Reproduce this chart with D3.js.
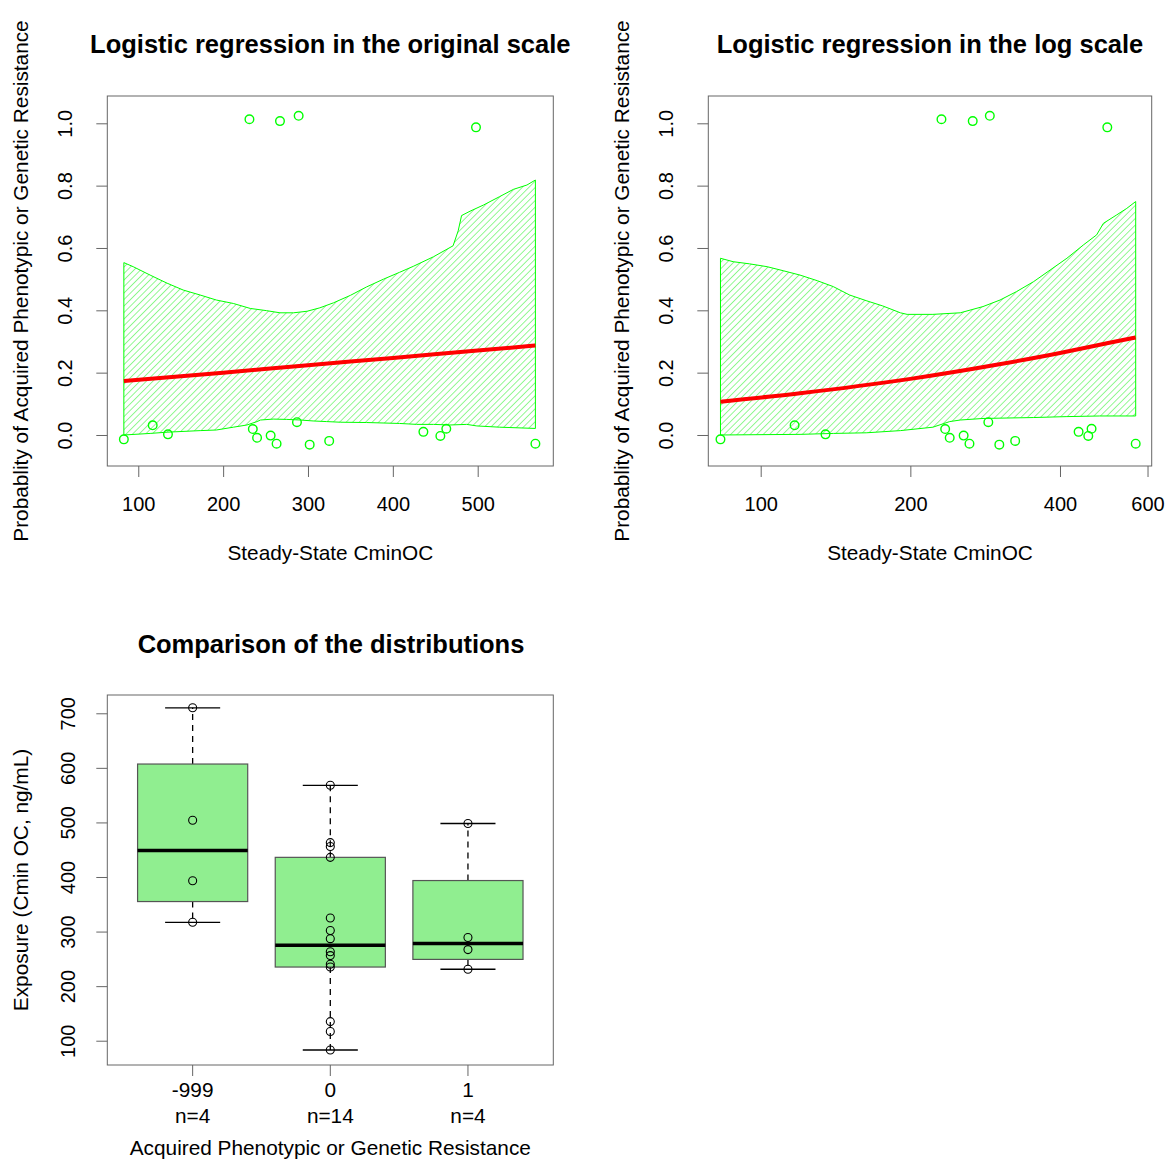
<!DOCTYPE html>
<meta charset="utf-8">
<title>Logistic regression and exposure distributions</title>
<style>
  body { margin: 0; background: #fff; }
  text { font-family: "Liberation Sans", Arial, sans-serif; fill: #000; }
  .title { font-size: 25.5px; font-weight: bold; }
  .lab { font-size: 20.8px; }
  .tick text { font-size: 20px; }
</style>
<body>
<svg width="1166" height="1163"></svg>
<script src="https://d3js.org/d3.v7.min.js"></script>
<script>

  // Steady-state CminOC per resistance group
  var groupNames = ["-999", "0", "1"];
  var cminUnknown = [317, 393, 504, 710];
  var cminNoRes = [83, 117, 135, 235, 240, 256, 263, 287, 302, 325, 436, 456, 463, 568];
  var cminRes = [231, 267, 289, 498];

  // outcome as plotted (jittered 0 / 1)
  var jitNoRes = [-0.014, 0.031, 0.002, 0.019, -0.009, -0.002, -0.028, 0.041, -0.031, -0.019, 0.010, -0.003, 0.020, -0.028];
  var jitRes = [1.013, 1.007, 1.024, 0.987];

  // fitted probability, original scale
  var fitOrigX = [83, 200, 300, 400, 500, 568];
  var fitOrigP = [0.173, 0.200, 0.224, 0.247, 0.271, 0.287];
  // confidence band, original scale
  var bandOrigUpX = [83, 94, 114, 134, 153, 173, 192, 212, 232, 251, 267, 283, 299, 314, 330, 350, 369, 389, 408, 424, 448, 471, 477, 481, 491, 507, 526, 542, 558, 568];
  var bandOrigUpP = [0.553, 0.540, 0.513, 0.487, 0.465, 0.449, 0.433, 0.422, 0.406, 0.399, 0.392, 0.392, 0.397, 0.408, 0.424, 0.448, 0.475, 0.500, 0.522, 0.541, 0.572, 0.607, 0.655, 0.704, 0.718, 0.738, 0.765, 0.788, 0.802, 0.818];
  var bandOrigLoX = [83, 114, 134, 173, 192, 212, 228, 240, 244, 259, 275, 291, 306, 322, 338, 369, 408, 428, 448, 467, 487, 499, 526, 568];
  var bandOrigLoP = [0.000, 0.005, 0.009, 0.014, 0.016, 0.025, 0.032, 0.043, 0.048, 0.051, 0.050, 0.048, 0.045, 0.043, 0.041, 0.040, 0.037, 0.034, 0.034, 0.032, 0.034, 0.029, 0.025, 0.021];

  // fitted probability, log scale
  var fitLogX = [83, 120, 200, 300, 400, 500, 568];
  var fitLogP = [0.107, 0.134, 0.180, 0.226, 0.263, 0.295, 0.313];
  // confidence band, log scale
  var bandLogUpX = [83, 88, 95, 103, 111, 120, 130, 140, 151, 163, 176, 191, 197, 222, 252, 280, 303, 327, 354, 382, 413, 446, 474, 489, 520, 545, 568];
  var bandLogUpP = [0.567, 0.556, 0.549, 0.540, 0.527, 0.513, 0.495, 0.476, 0.449, 0.431, 0.414, 0.392, 0.387, 0.387, 0.392, 0.412, 0.433, 0.460, 0.492, 0.529, 0.567, 0.610, 0.642, 0.679, 0.706, 0.727, 0.749];
  var bandLogLoX = [83, 120, 140, 163, 191, 222, 240, 252, 280, 354, 413, 481, 568];
  var bandLogLoP = [0.000, 0.002, 0.005, 0.007, 0.014, 0.025, 0.043, 0.048, 0.053, 0.056, 0.059, 0.061, 0.061];

  // tick values
  var probTicks = [0, 0.2, 0.4, 0.6, 0.8, 1.0];
  var origTicks = [100, 200, 300, 400, 500];
  var logTicks = [100, 200, 400, 600];
  var expoTicks = [100, 200, 300, 400, 500, 600, 700];

  var svg = d3.select("svg");
  svg.append("rect").attr("width", 1166).attr("height", 1163).attr("fill", "#fff");

  // hatching like R's density= polygons
  svg.append("defs").append("pattern")
    .attr("id", "hatch")
    .attr("patternUnits", "userSpaceOnUse")
    .attr("width", 4.6).attr("height", 4.6)
    .attr("patternTransform", "rotate(45)")
    .append("line")
    .attr("x1", 0).attr("y1", 0).attr("x2", 0).attr("y2", 4.6)
    .attr("stroke", "#00ee00").attr("stroke-width", 1).attr("stroke-opacity", 0.85);

  var yProb1 = d3.scaleLinear().domain([-0.0995, 1.0876]).range([466, 96]);
  var xOrig = d3.scaleLinear().domain([63.5, 589.1]).range([107.3, 553.3]);
  var xLog = d3.scaleLog().domain([78.45, 611.7]).range([708.3, 1151.7]);
  var yExpo = d3.scaleLinear().domain([55.5, 733.5]).range([1065, 695]);
  var xGroup = d3.scaleLinear().domain([0.38, 3.62]).range([107.3, 553.3]);

  function frame(x0, x1, y0, y1) {
    svg.append("rect")
      .attr("x", x0).attr("y", y0)
      .attr("width", x1 - x0).attr("height", y1 - y0)
      .attr("fill", "none").attr("stroke", "#666").attr("stroke-width", 1);
  }

  function yAxis(x0, scale, ticks, fmt, labelDx) {
    var g = svg.append("g").attr("transform", "translate(" + x0 + ",0)")
      .call(d3.axisLeft(scale).tickValues(ticks).tickFormat(fmt).tickSize(11).tickSizeOuter(0));
    g.select(".domain").remove();
    g.selectAll(".tick line").attr("stroke", "#666");
    g.selectAll(".tick text")
      .attr("x", null).attr("dy", null)
      .attr("text-anchor", "middle")
      .attr("transform", "translate(" + labelDx + ",0) rotate(-90)");
  }

  function xAxis(y0, scale, ticks) {
    var g = svg.append("g").attr("transform", "translate(0," + y0 + ")")
      .call(d3.axisBottom(scale).tickValues(ticks).tickFormat(d3.format("d")).tickSize(11).tickSizeOuter(0));
    g.select(".domain").remove();
    g.selectAll(".tick line").attr("stroke", "#666");
    g.selectAll(".tick text").attr("y", 44.5).attr("dy", null);
  }

  function label(x, y, txt, rot, cls) {
    svg.append("text")
      .attr("class", cls || "lab")
      .attr("text-anchor", "middle")
      .attr("transform", "translate(" + x + "," + y + ")" + (rot ? " rotate(-90)" : ""))
      .text(txt);
  }

  function pts(xs, ps) {
    return xs.map(function (d, i) { return [d, ps[i]]; });
  }

  function logisticPanel(xs, upX, upP, loX, loP, fitX, fitP) {
    var poly = pts(upX, upP).concat(pts(loX, loP).reverse());
    var line = d3.line().x(function (d) { return xs(d[0]); }).y(function (d) { return yProb1(d[1]); });

    svg.append("path")
      .attr("d", line.curve(d3.curveLinearClosed)(poly))
      .attr("fill", "url(#hatch)")
      .attr("stroke", "#00ff00").attr("stroke-width", 1);

    svg.append("path")
      .attr("d", line.curve(d3.curveMonotoneX)(pts(fitX, fitP)))
      .attr("fill", "none")
      .attr("stroke", "#ff0000").attr("stroke-width", 4);

    svg.append("g").selectAll("circle")
      .data(pts(cminNoRes, jitNoRes).concat(pts(cminRes, jitRes)))
      .enter().append("circle")
      .attr("cx", function (d) { return xs(d[0]); })
      .attr("cy", function (d) { return yProb1(d[1]); })
      .attr("r", 4.3)
      .attr("fill", "none")
      .attr("stroke", "#00ff00").attr("stroke-width", 1.4);
  }

  var yLab = "Probablity of Acquired Phenotypic or Genetic Resistance";

  // panel 1: original scale
  logisticPanel(xOrig, bandOrigUpX, bandOrigUpP, bandOrigLoX, bandOrigLoP, fitOrigX, fitOrigP);
  frame(107.3, 553.3, 96, 466);
  yAxis(107.3, yProb1, probTicks, d3.format(".1f"), -35);
  xAxis(466, xOrig, origTicks);
  label(330.3, 53, "Logistic regression in the original scale", false, "title");
  label(330.3, 560, "Steady-State CminOC");
  label(28, 281, yLab, true);

  // panel 2: log scale
  logisticPanel(xLog, bandLogUpX, bandLogUpP, bandLogLoX, bandLogLoP, fitLogX, fitLogP);
  frame(708.3, 1151.7, 96, 466);
  yAxis(708.3, yProb1, probTicks, d3.format(".1f"), -35);
  xAxis(466, xLog, logTicks);
  label(930, 53, "Logistic regression in the log scale", false, "title");
  label(930, 560, "Steady-State CminOC");
  label(629, 281, yLab, true);

  // panel 3: boxplots
  function fivenum(a) {
    var s = a.slice().sort(d3.ascending), n = s.length;
    var n4 = Math.floor((n + 3) / 2) / 2;
    return [1, n4, (n + 1) / 2, n + 1 - n4, n].map(function (d) {
      return 0.5 * (s[Math.floor(d) - 1] + s[Math.ceil(d) - 1]);
    });
  }

  var groups = [cminUnknown, cminNoRes, cminRes];
  groups.forEach(function (vals, i) {
    var f = fivenum(vals), c = xGroup(i + 1);
    var hw = xGroup(1.4) - xGroup(1), sw = xGroup(1.2) - xGroup(1);
    var iqr = f[3] - f[1];
    var lo = d3.min(vals.filter(function (v) { return v >= f[1] - 1.5 * iqr; }));
    var hi = d3.max(vals.filter(function (v) { return v <= f[3] + 1.5 * iqr; }));
    var g = svg.append("g");

    g.append("line").attr("x1", c).attr("x2", c).attr("y1", yExpo(f[3])).attr("y2", yExpo(hi))
      .attr("stroke", "#000").attr("stroke-width", 1.3).attr("stroke-dasharray", "6,5");
    g.append("line").attr("x1", c).attr("x2", c).attr("y1", yExpo(f[1])).attr("y2", yExpo(lo))
      .attr("stroke", "#000").attr("stroke-width", 1.3).attr("stroke-dasharray", "6,5");
    [lo, hi].forEach(function (v) {
      g.append("line").attr("x1", c - sw).attr("x2", c + sw).attr("y1", yExpo(v)).attr("y2", yExpo(v))
        .attr("stroke", "#000").attr("stroke-width", 1.3);
    });
    g.append("rect")
      .attr("x", c - hw).attr("width", 2 * hw)
      .attr("y", yExpo(f[3])).attr("height", yExpo(f[1]) - yExpo(f[3]))
      .attr("fill", "#90ee90").attr("stroke", "#555").attr("stroke-width", 1.2);
    g.append("line").attr("x1", c - hw).attr("x2", c + hw).attr("y1", yExpo(f[2])).attr("y2", yExpo(f[2]))
      .attr("stroke", "#000").attr("stroke-width", 3.5);

    g.selectAll("circle").data(vals).enter().append("circle")
      .attr("cx", c).attr("cy", function (d) { return yExpo(d); })
      .attr("r", 4).attr("fill", "none").attr("stroke", "#000").attr("stroke-width", 1.1);

    label(c, 1096.5, groupNames[i]);
    label(c, 1122.5, "n=" + vals.length);
  });

  frame(107.3, 553.3, 695, 1065);
  yAxis(107.3, yExpo, expoTicks, d3.format("d"), -32);
  var xt = svg.append("g");
  [1, 2, 3].forEach(function (k) {
    xt.append("line").attr("x1", xGroup(k)).attr("x2", xGroup(k)).attr("y1", 1065).attr("y2", 1076)
      .attr("stroke", "#666");
  });
  label(331, 653, "Comparison of the distributions", false, "title");
  label(330.3, 1155, "Acquired Phenotypic or Genetic Resistance");
  label(28, 880, "Exposure (Cmin OC, ng/mL)", true);

</script>
</body>
